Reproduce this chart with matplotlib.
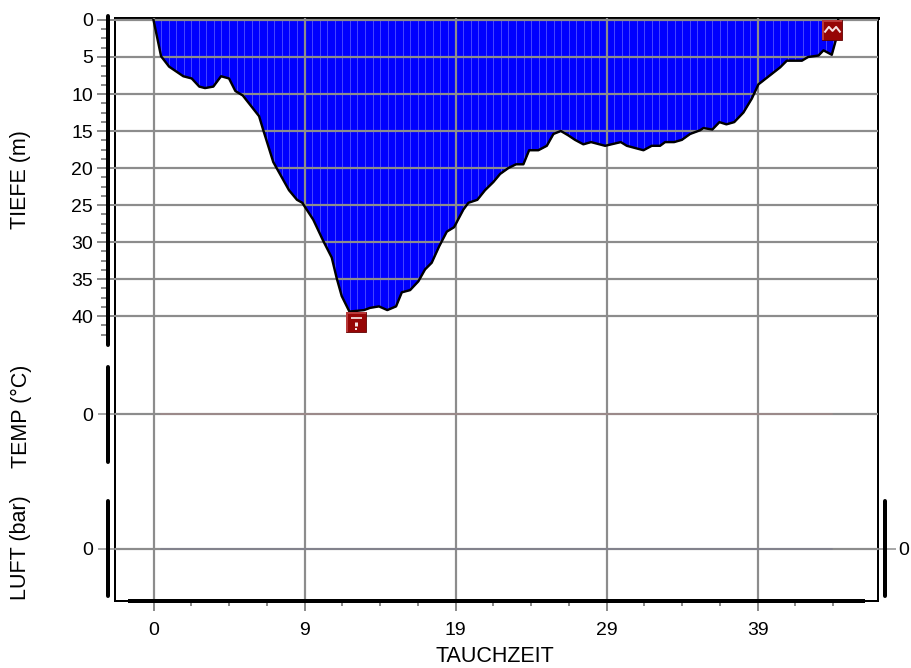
import numpy as np
import matplotlib
matplotlib.use("Agg")
import matplotlib.pyplot as plt
from matplotlib.patches import Polygon
from matplotlib.path import Path

plt.rcParams['font.family'] = ['Liberation Sans', 'DejaVu Sans']

# ---- data ----
time_values = [0.0, 0.5, 1.03, 1.97, 2.53, 3.03, 3.41, 3.96, 4.47, 5.0, 5.42, 5.91, 6.99, 7.27, 7.93,
               8.97, 9.5, 9.85, 10.58, 11.25, 11.8, 12.13, 12.46, 12.97, 13.94, 14.34, 14.93, 15.48,
               16.06, 16.44, 16.99, 17.54, 17.98, 18.42, 18.91, 19.42, 19.9, 20.52, 20.85, 21.44,
               21.95, 22.5, 22.95, 23.5, 24.0, 24.49, 24.87, 25.48, 26.04, 26.48, 26.97, 27.47,
               27.91, 28.46, 28.97, 29.9, 30.94, 31.34, 32.44, 32.99, 33.54, 33.87, 34.47, 34.98,
               35.53, 36.19, 36.41, 37.0, 37.47, 37.93, 38.45, 39.06, 39.62, 40.05, 41.49, 41.93,
               42.93, 43.34, 44.03, 44.36, 44.91, 45.18, 45.33]
depth_values = [0.0, 4.9, 6.3, 7.6, 7.9, 9.0, 9.2, 9.0, 7.6, 7.9, 9.6, 10.2, 13.0, 14.9, 19.2,
                23.0, 24.3, 24.7, 27.0, 29.9, 32.1, 34.9, 37.3, 39.4, 39.2, 38.9, 38.7, 39.2,
                38.7, 36.8, 36.5, 35.3, 33.7, 32.8, 30.6, 28.6, 28.0, 25.6, 24.7, 24.3,
                23.0, 21.9, 20.8, 20.0, 19.5, 19.5, 17.6, 17.6, 17.0, 15.4, 15.0, 15.6,
                16.2, 16.8, 16.5, 17.0, 16.5, 17.0, 17.6, 17.0, 17.0, 16.5, 16.5, 16.2,
                15.4, 14.9, 14.6, 14.8, 13.8, 14.1, 13.8, 12.5, 10.6, 8.7, 6.4, 5.5,
                5.5, 5.0, 4.8, 4.1, 4.7, 2.7, 0.0]
x_ticks = [0, 10, 20, 30, 40]
x_labels = ['0', '9', '19', '29', '39']
depth_ticks = [0, 5, 10, 15, 20, 25, 30, 35, 40]
event_warn = (13.43, 40.8)
event_zigzag = (44.9, 1.4)
flat_range = (0.5, 44.9)

W, H = 911, 668
fig = plt.figure(figsize=(W / 100, H / 100), dpi=100)
px = 72 / 100  # points per pixel
TICK_FS = 14
LABEL_FS = 15.5


def rect(l, t, r, b):
    return [l / W, 1 - b / H, (r - l) / W, (b - t) / H]


GRID = '#8c8c8c'
ax = fig.add_axes(rect(115, 18, 877.7, 600.7))
ax.set_xlim(-2.55, 47.95)
ax.set_ylim(78.47, -0.27)
ax.set_facecolor('none')
for s in ax.spines.values():
    s.set_linewidth(2 * px)
    s.set_color('black')
ax.spines['top'].set_linewidth(3 * px)

# profile
ax.fill_between(time_values, 0, depth_values, color='#0000ff', lw=0, zorder=2)
clip = Polygon(np.column_stack([time_values, depth_values]), closed=True,
               transform=ax.transData, fill=False, lw=0)
ax.add_patch(clip)
stripes = ax.vlines(np.arange(0.5, 45.5, 0.5), 0, 45, color='#5656ff', lw=0.8 * px, zorder=2.1)
stripes.set_clip_path(clip)
ax.plot(time_values, depth_values, color='black', lw=2.4 * px, zorder=4, solid_joinstyle='round')

# depth axis
ax.set_yticks(depth_ticks)
ax.tick_params(axis='y', which='major', length=18 * px, width=2 * px, color=GRID,
               labelsize=TICK_FS, pad=4 * px)
ax.set_xticks(x_ticks, x_labels)
ax.set_xticks(np.arange(0, 46, 2.5), minor=True)
ax.tick_params(axis='x', which='major', length=10 * px, width=2 * px, color=GRID,
               labelsize=TICK_FS, pad=11 * px)
ax.tick_params(axis='x', which='minor', length=5 * px, width=2 * px, color=GRID)
ax.grid(True, which='major', color=GRID, lw=2.2 * px, zorder=3)
ax.set_axisbelow(False)


# stacked panels with their own value axes
def side_axes(top, bottom):
    a = fig.add_axes(rect(115, top, 877.7, bottom))
    a.set_xlim(ax.get_xlim())
    a.set_ylim(-1, 1)
    a.patch.set_visible(False)
    a.set_xticks([])
    a.set_yticks([0])
    a.tick_params(axis='y', length=21 * px, width=1.5 * px, color=GRID, direction='inout',
                  labelsize=TICK_FS, pad=4 * px)
    for s in a.spines.values():
        s.set_visible(False)
    a.grid(True, axis='y', color=GRID, lw=2.2 * px)
    a.spines['left'].set_visible(True)
    a.spines['left'].set_position(('outward', 7.5 * px))
    a.spines['left'].set_linewidth(4 * px)
    a.spines['left'].set_capstyle('round')
    return a


temp = side_axes(367, 462)
temp.plot(flat_range, [0, 0], color='#a08a8a', lw=1.5 * px, zorder=5)
luft = side_axes(501, 596)
luft.plot(flat_range, [0, 0], color='#80808c', lw=1.5 * px, zorder=5)

# right-hand axis of the air panel
r = luft.twinx()
r.set_ylim(-1, 1)
r.set_yticks([0])
r.patch.set_visible(False)
r.tick_params(axis='y', length=21 * px, width=1.5 * px, color=GRID, direction='inout',
              labelsize=TICK_FS, pad=3 * px)
for s in r.spines.values():
    s.set_visible(False)
r.spines['right'].set_visible(True)
r.spines['right'].set_position(('outward', 7.5 * px))
r.spines['right'].set_linewidth(4 * px)
r.spines['right'].set_capstyle('round')

# thick depth bar with its minor ticks, thick time bar
d = fig.add_axes(rect(115, 18, 877.7, 600.7))
d.set_xlim(ax.get_xlim())
d.set_ylim(ax.get_ylim())
d.patch.set_visible(False)
d.set_xticks([])
d.set_yticks([])
d.set_yticks(np.arange(0, 43, 1.25), minor=True)
d.tick_params(axis='y', which='minor', length=7 * px, width=2 * px, color=GRID, labelleft=False)
for s in d.spines.values():
    s.set_visible(False)
d.spines['left'].set_visible(True)
d.spines['left'].set_position(('outward', 7.5 * px))
d.spines['left'].set_bounds(-0.5, 43.9)
d.spines['left'].set_linewidth(4 * px)
d.spines['left'].set_capstyle('round')
d.spines['bottom'].set_visible(True)
d.spines['bottom'].set_bounds(-1.55, 46.95)
d.spines['bottom'].set_linewidth(4 * px)

# event icons: marker shapes in a unit box
bevel = Path([(-1, 1), (1, 1), (1, 0.82), (-0.82, 0.82), (-0.82, -1), (-1, -1), (-1, 1)], closed=True)
zig = Path([(-1, -0.25), (-0.45, 0.45), (0, -0.05), (0.45, 0.45), (1, -0.25)])
for (ex, ey) in (event_warn, event_zigzag):
    ax.plot([ex], [ey], marker='s', ms=20 * px, mfc='#960505', mec='#600000', mew=0.6,
            ls='none', zorder=6, clip_on=False)
    ax.plot([ex], [ey], marker=bevel, ms=20 * px, mfc='#b83a3a', mew=0, ls='none', zorder=6.5)
ax.plot([event_warn[0]], [event_warn[1] + 0.34], marker='|', ms=5 * px, mew=3 * px,
        color='#f4e4e4', ls='none', zorder=7)
ax.plot([event_warn[0]], [event_warn[1] + 0.98], marker='s', ms=2.5 * px, mew=0,
        color='#f4e4e4', ls='none', zorder=7)
ax.plot([event_warn[0]], [event_warn[1] - 0.55], marker='_', ms=11 * px, mew=2 * px,
        color='#e8c4c4', ls='none', zorder=7)
ax.plot([event_zigzag[0]], [event_zigzag[1]], marker=zig, ms=16 * px, mfc='none', mec='#f7e2e2',
        mew=2 * px, ls='none', zorder=7)

# titles
lab = dict(rotation=90, ha='center', va='center', fontsize=LABEL_FS)
fig.text(21 / W, 1 - 180 / H, 'TIEFE (m)', **lab)
fig.text(21 / W, 1 - 416 / H, 'TEMP (°C)', **lab)
fig.text(21 / W, 1 - 548 / H, 'LUFT (bar)', **lab)
fig.text(495 / W, 1 - 656 / H, 'TAUCHZEIT', ha='center', va='center', fontsize=LABEL_FS)

fig.savefig('out.png', dpi=100)
